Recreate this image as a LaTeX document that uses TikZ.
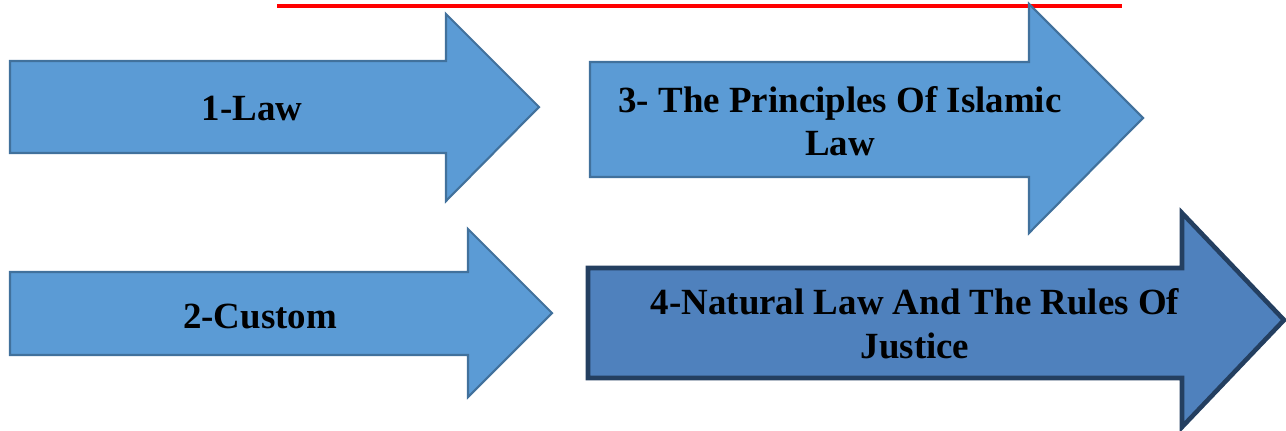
\documentclass[tikz,border=0pt]{standalone}
\usepackage{fontspec}
\setmainfont{Liberation Serif}
\usepackage{tikz}
\usetikzlibrary{positioning}

\definecolor{arrowfill}{HTML}{5B9BD5}
\definecolor{arrowline}{HTML}{41719C}
\definecolor{darkfill}{HTML}{4F81BD}
\definecolor{darkline}{HTML}{243F60}

\tikzset{
  flat/.style={fill=arrowfill, draw=arrowline, line width=0.6pt, line join=miter},
  strong/.style={fill=darkfill, draw=darkline, line width=1.3pt, line join=miter},
  label/.style={font=\fontsize{10.5}{12.4}\selectfont\bfseries, align=center, inner sep=0pt}
}

\begin{document}
\begin{tikzpicture}[x=0.01cm, y=-0.01cm]
\useasboundingbox (0,0) rectangle (1286,430);
\draw[red, line width=1.2pt] (277,6)--(1122,6);
\draw[flat] (10,61)--(446,61)--(446,14)--(539,107)--(446,201)--(446,153)--(10,153)--cycle;
\draw[flat] (10,272)--(468,272)--(468,229)--(552,313)--(468,397)--(468,355)--(10,355)--cycle;
\draw[flat] (590,62)--(1029,62)--(1029,4)--(1143,118)--(1029,233)--(1029,177)--(590,177)--cycle;
\draw[strong] (588,268)--(1182,268)--(1182,213)--(1284,320)--(1182,427)--(1182,378)--(588,378)--cycle;
\node[label] (law) at (252,108) {1-Law};
\node[label] (custom) at (260,316) {2-Custom};
\node[label] (islamic) at (840,121) {3- The Principles Of Islamic\\Law};
\node[label] (natural) at (915,324) {4-Natural Law And The Rules Of\\Justice};
\end{tikzpicture}
\end{document}
